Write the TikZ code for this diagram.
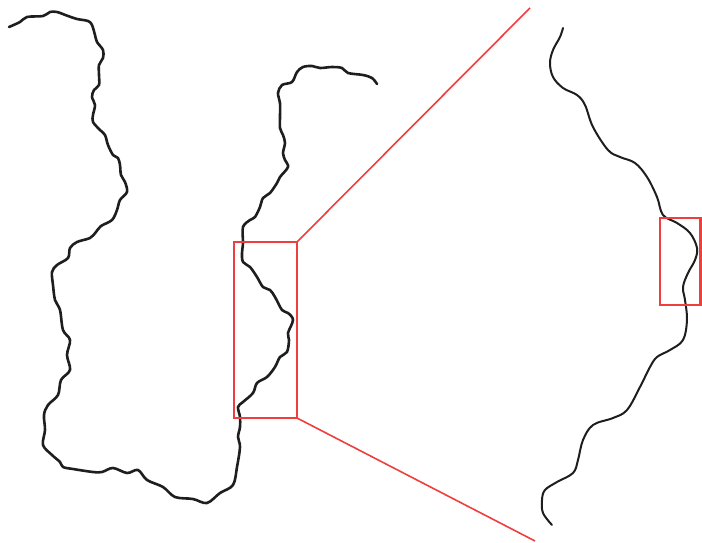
\documentclass[tikz,border=0pt]{standalone}
\definecolor{zoomred}{RGB}{238,62,62}
\definecolor{curveink}{RGB}{30,30,30}
\tikzset{
  curve/.style={curveink, line width=2.6pt, line join=round, line cap=round},
  finecurve/.style={curveink, line width=2pt, line join=round, line cap=round},
  zoombox/.style={zoomred, line width=2.4pt},
  zoomline/.style={zoomred, line width=1.6pt}
}
\begin{document}
\begin{tikzpicture}[x=1pt,y=-1pt]
\useasboundingbox (0,0) rectangle (702,543);
% main curve
\draw[curve] plot[smooth, tension=0.55] coordinates {
(9,27) (20,22) (27,17) (43,16) (50,12) (57,12) (68,16) (77,19) (88,21) (92,25) (95,35) (97,42)
(103,50) (103,58) (99,65) (99,75) (99,85) (94,90) (92,97) (95,105) (93,115) (93,122) (100,130)
(105,135) (108,145) (113,155) (118,158) (120,165) (121,175) (125,182) (127,192) (120,200)
(117,210) (112,220) (101,226) (96,232) (90,238) (77,242) (70,248) (68,258) (57,265) (52,272)
(53,285) (55,300) (60,310) (63,330) (70,340) (67,355) (70,370) (61,380) (58,395) (48,405)
(44,415) (45,430) (43,445) (52,455) (60,462) (63,467) (73,469) (93,472) (102,472) (113,468)
(127,473) (138,470) (147,480) (163,487) (175,497) (193,499) (207,503) (220,493) (233,485)
(237,467) (240,447) (238,437) (240,427) (240,417) (238,407) (243,402) (253,393) (257,383)
(267,377) (275,367) (280,357) (287,352) (289,340) (288,333) (293,320) (288,313) (282,310)
(275,297) (270,290) (263,287) (257,277) (250,267) (243,262) (242,253) (243,243) (243,227)
(250,220) (255,217) (260,207) (263,198) (270,193) (277,183) (280,177) (288,167) (285,160)
(283,153) (285,143) (283,135) (280,128) (280,117) (280,103) (278,93) (282,85) (292,82)
(297,72) (303,67) (312,66) (320,68) (332,67) (342,68) (348,73) (363,75) (372,78) (377,84)};
% zoomed curve
\draw[finecurve] plot[smooth, tension=0.6] coordinates {
(563,28) (560,37) (553,50) (550,63) (553,77) (563,88) (577,95) (585,105) (593,127) (608,150)
(620,157) (635,163) (647,177) (657,197) (663,215) (677,223) (690,233) (697,248) (695,260)
(688,273) (683,287) (685,300) (687,320) (683,340) (670,350) (657,357) (650,367) (640,387)
(627,410) (613,418) (593,425) (583,440) (578,460) (573,473) (557,482) (545,490) (542,500)
(543,513) (552,525)};
% zoom boxes
\coordinate (bigTL) at (234,242);
\coordinate (bigTR) at (297,242);
\coordinate (bigBR) at (297,418);
\coordinate (farTop) at (530,8);
\coordinate (farBot) at (535,541);
\draw[zoombox] (bigTL) rectangle (bigBR);
\draw[zoomline] (bigTR) -- (farTop);
\draw[zoomline] (bigBR) -- (farBot);
\coordinate (smallTL) at (660,218);
\coordinate (smallBR) at (700.5,305);
\draw[zoombox] (smallTL) rectangle (smallBR);
\end{tikzpicture}
\end{document}
